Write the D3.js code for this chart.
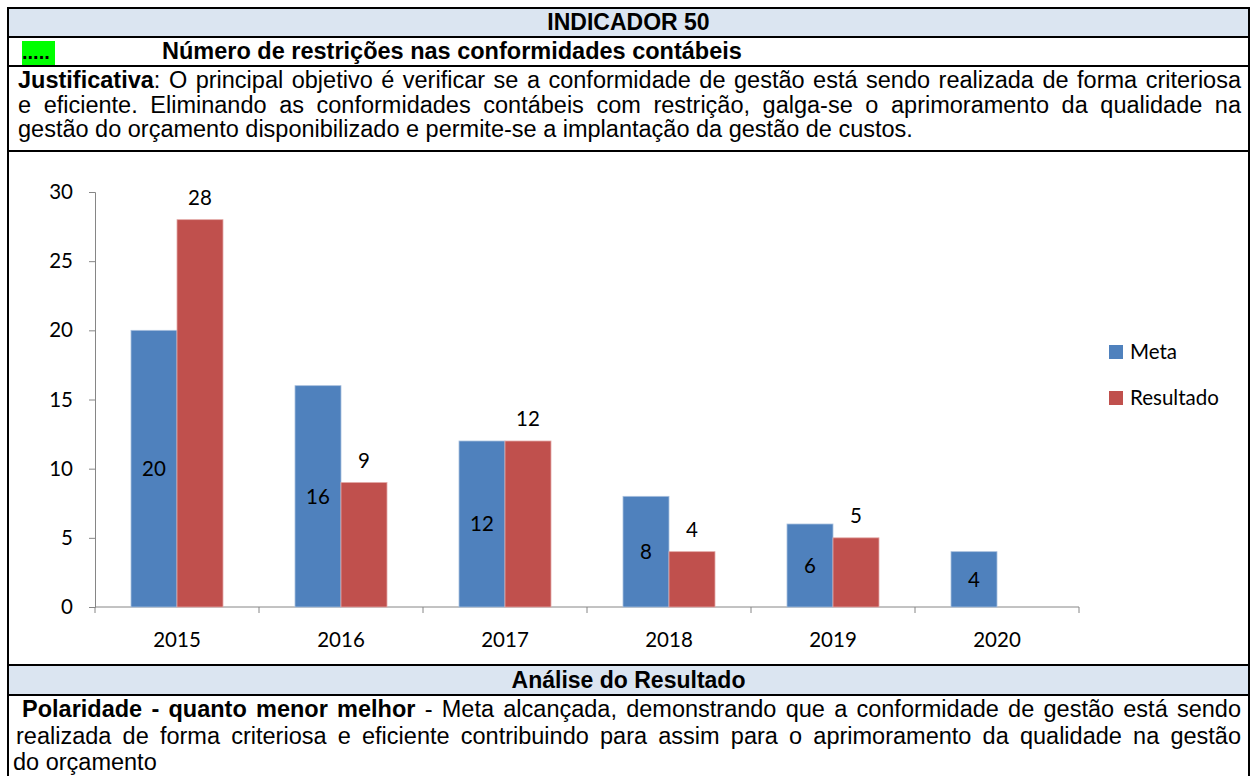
<!DOCTYPE html>
<html>
<head>
<meta charset="utf-8">
<script src="https://cdn.jsdelivr.net/npm/d3@7"></script>
<style>
  body { margin: 0; background: #fff; font-family: "Liberation Sans", Arial, sans-serif; }
  .box { position: absolute; left: 7px; top: 7px; width: 1239px; height: 800px; border: 2px solid #000; }
  .row { position: absolute; left: 0; width: 1239px; border-bottom: 2px solid #000; }
  .hdr { background: #dbe5f1; font-weight: bold; font-size: 23px; text-align: center; }
  .txt { font-size: 23.5px; color: #000; }
  .ln { text-align: justify; text-align-last: justify; white-space: nowrap; }
  .ln.last { text-align-last: left; }
  #chart { position: absolute; left: 0; top: 0; }
</style>
</head>
<body>
<div class="box">
  <div class="row hdr" style="top:0;height:27px;line-height:27px">INDICADOR 50</div>
  <div class="row" style="top:29px;height:27px;font-weight:bold;font-size:23.5px;line-height:27px">
    <span style="position:absolute;left:13px;top:3px;width:33px;height:24px;background:#00ff00;line-height:22px;font-size:20px;overflow:hidden">.....</span>
    <span style="position:absolute;left:153px">Número de restrições nas conformidades contábeis</span>
  </div>
  <div class="row txt" style="top:58px;height:83px">
    <div style="position:absolute;left:9px;width:1223px;top:1px;line-height:24.5px">
      <div class="ln"><b>Justificativa</b>: O principal objetivo é verificar se a conformidade de gestão está sendo realizada de forma criteriosa</div>
      <div class="ln">e eficiente. Eliminando as conformidades contábeis com restrição, galga-se o aprimoramento da qualidade na</div>
      <div class="ln last">gestão do orçamento disponibilizado e permite-se a implantação da gestão de custos.</div>
    </div>
  </div>
  <div class="row" style="top:143px;height:512px"></div>
  <div class="row hdr" style="top:657px;height:28px;line-height:28px">Análise do Resultado</div>
  <div class="txt" style="position:absolute;left:7px;width:1225px;top:687px;line-height:26.5px">
    <div class="ln" style="padding-left:6px"><b>Polaridade - quanto menor melhor</b> - Meta alcançada, demonstrando que a conformidade de gestão está sendo</div>
    <div class="ln">realizada de forma criteriosa e eficiente contribuindo para assim para o aprimoramento da qualidade na gestão</div>
    <div class="ln last" style="margin-left:-3px">do orçamento</div>
  </div>
</div>
<svg id="chart" width="1251" height="776"></svg>
<script>
const years = ["2015", "2016", "2017", "2018", "2019", "2020"];
const series = ["Meta", "Resultado"];
const meta = [20, 16, 12, 8, 6, 4];
const resultado = [28, 9, 12, 4, 5, null];
const yTicks = [0, 5, 10, 15, 20, 25, 30];
const colors = ["#4f81bd", "#c0504d"];

const chartFont = "Lato, 'Open Sans', sans-serif";
const fs = 20.5;
const svg = d3.select("#chart");

// shrink any justified line that is wider than its box
d3.selectAll(".ln").each(function () {
  let size = 23.5;
  while (this.scrollWidth > this.clientWidth + 1 && size > 18) {
    size -= 0.25;
    this.style.fontSize = size + "px";
  }
});

const x = d3.scaleBand().domain(years).range([95, 1079]);
const xs = d3.scaleBand().domain(series).range([36, 128]);
const y = d3.scaleLinear().domain([0, 30]).range([607, 192]);
const color = d3.scaleOrdinal().domain(series).range(colors);

// y axis
const yAxis = svg.append("g")
  .attr("transform", "translate(95,0)")
  .call(d3.axisLeft(y).tickValues(yTicks).tickSize(6).tickPadding(16));
yAxis.select(".domain").attr("stroke", "#868686");
yAxis.selectAll("line").attr("stroke", "#868686");
yAxis.selectAll("text").attr("font-family", chartFont).attr("font-size", fs).attr("fill", "#000");

// x axis, ticks on the category boundaries
const xAxis = svg.append("g").attr("transform", "translate(0,607)");
xAxis.append("line").attr("x1", 95).attr("x2", 1079).attr("stroke", "#868686");
xAxis.selectAll("line.tk")
  .data(years.map(d => x(d)).concat([x.range()[1]]))
  .enter().append("line")
  .attr("x1", d => d).attr("x2", d => d)
  .attr("y1", 0).attr("y2", 6)
  .attr("stroke", "#868686");
xAxis.selectAll("text")
  .data(years)
  .enter().append("text")
  .attr("x", d => x(d) + x.bandwidth() / 2)
  .attr("y", 40)
  .attr("text-anchor", "middle")
  .attr("font-family", chartFont)
  .attr("font-size", fs)
  .text(d => d);

const rows = [];
years.forEach((yr, i) => {
  rows.push({ year: yr, key: "Meta", value: meta[i] });
  if (resultado[i] != null) rows.push({ year: yr, key: "Resultado", value: resultado[i] });
});

svg.selectAll("rect.bar")
  .data(rows)
  .enter().append("rect")
  .attr("class", "bar")
  .attr("x", d => x(d.year) + xs(d.key))
  .attr("width", xs.bandwidth())
  .attr("y", d => y(d.value))
  .attr("height", d => y(0) - y(d.value))
  .attr("fill", d => color(d.key))
  .attr("stroke", d => d.key === "Meta" ? "#a9c0de" : "#e3a9a7")
  .attr("stroke-width", 0.8);

// labels: Meta centred in the bar, Resultado above it
svg.selectAll("text.lbl")
  .data(rows)
  .enter().append("text")
  .attr("class", "lbl")
  .attr("x", d => x(d.year) + xs(d.key) + xs.bandwidth() / 2)
  .attr("y", d => d.key === "Meta" ? (y(d.value) + y(0)) / 2 : y(d.value) - 22)
  .attr("dy", "0.35em")
  .attr("text-anchor", "middle")
  .attr("font-family", chartFont)
  .attr("font-size", fs)
  .attr("fill", "#000")
  .text(d => d.value);

// legend
const legend = svg.append("g").attr("transform", "translate(1109,352)");
series.forEach((s, i) => {
  const g = legend.append("g").attr("transform", "translate(0," + (i * 46) + ")");
  g.append("rect").attr("x", 0).attr("y", -7).attr("width", 14).attr("height", 14).attr("fill", color(s));
  g.append("text").attr("x", 21).attr("dy", "0.35em")
    .attr("font-family", chartFont).attr("font-size", fs).text(s);
});
</script>
</body>
</html>
